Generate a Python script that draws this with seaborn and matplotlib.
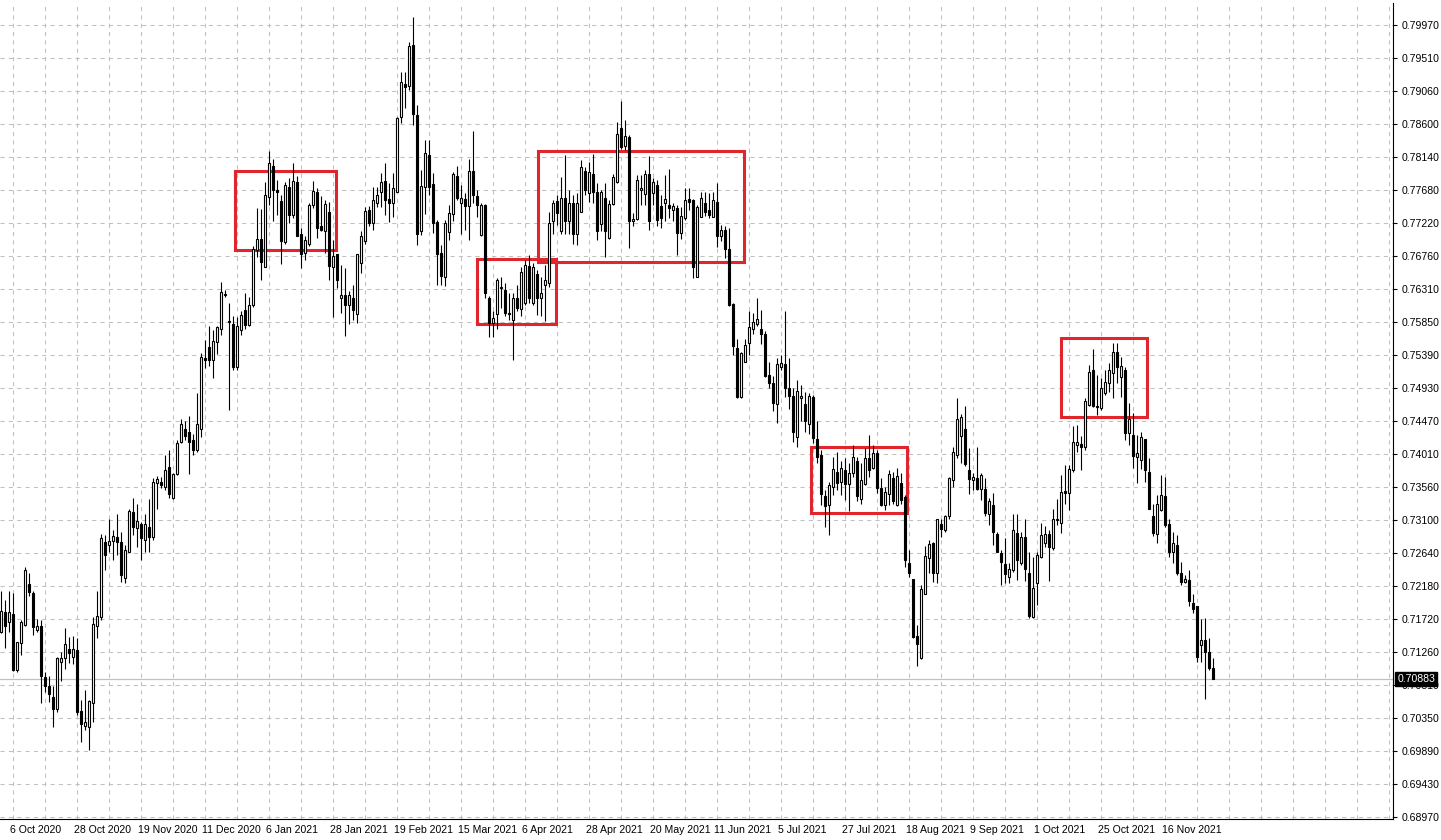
import numpy as np
import pandas as pd
import matplotlib
matplotlib.use("Agg")
import matplotlib.pyplot as plt
import matplotlib.transforms as mtransforms
from matplotlib.patches import Rectangle
import seaborn as sns

# daily AUDUSD candles, 1 Oct 2020 .. 2 Dec 2021
opens = [
    0.7154, 0.7182, 0.7167, 0.7178, 0.7101, 0.7138, 0.7163, 0.7220, 0.7208, 0.7157,
    0.7162, 0.7091, 0.7079, 0.7063, 0.7047, 0.7112, 0.7117, 0.7130, 0.7119, 0.7129,
    0.7044, 0.7023, 0.7021, 0.7055, 0.7162, 0.7175, 0.7278, 0.7275, 0.7280, 0.7286,
    0.7279, 0.7229, 0.7265, 0.7320, 0.7298, 0.7304, 0.7282, 0.7300, 0.7286, 0.7360,
    0.7362, 0.7355, 0.7383, 0.7340, 0.7373, 0.7417, 0.7436, 0.7431, 0.7420, 0.7406,
    0.7436, 0.7534, 0.7549, 0.7532, 0.7556, 0.7575, 0.7623, 0.7586, 0.7581, 0.7522,
    0.7573, 0.7601, 0.7580, 0.7608, 0.7684, 0.7699, 0.7661, 0.7758, 0.7801, 0.7767,
    0.7752, 0.7695, 0.7772, 0.7733, 0.7778, 0.7707, 0.7680, 0.7693, 0.7747, 0.7764,
    0.7717, 0.7711, 0.7737, 0.7661, 0.7678, 0.7618, 0.7621, 0.7608, 0.7618, 0.7595,
    0.7666, 0.7696, 0.7740, 0.7721, 0.7750, 0.7765, 0.7780, 0.7755, 0.7749, 0.7765,
    0.7869, 0.7915, 0.7912, 0.7969, 0.7872, 0.7710, 0.7771, 0.7816, 0.7776, 0.7723,
    0.7680, 0.7647, 0.7709, 0.7734, 0.7787, 0.7750, 0.7755, 0.7745, 0.7794, 0.7759,
    0.7705, 0.7747, 0.7617, 0.7583, 0.7595, 0.7631, 0.7629, 0.7597, 0.7587, 0.7617,
    0.7602, 0.7610, 0.7662, 0.7611, 0.7651, 0.7617, 0.7636, 0.7638, 0.7724, 0.7752,
    0.7710, 0.7757, 0.7724, 0.7749, 0.7706, 0.7737, 0.7794, 0.7763, 0.7790, 0.7764,
    0.7720, 0.7757, 0.7701, 0.7748, 0.7778, 0.7853, 0.7829, 0.7841, 0.7724, 0.7727,
    0.7767, 0.7762, 0.7789, 0.7763, 0.7774, 0.7745, 0.7750, 0.7747, 0.7740, 0.7742,
    0.7708, 0.7728, 0.7755, 0.7754, 0.7647, 0.7730, 0.7750, 0.7740, 0.7730, 0.7751,
    0.7704, 0.7712, 0.7686, 0.7609, 0.7548, 0.7480, 0.7529, 0.7555, 0.7575, 0.7581,
    0.7574, 0.7567, 0.7511, 0.7499, 0.7470, 0.7522, 0.7526, 0.7493, 0.7481, 0.7424,
    0.7478, 0.7470, 0.7443, 0.7480, 0.7422, 0.7400, 0.7342, 0.7330, 0.7355, 0.7376,
    0.7362, 0.7379, 0.7359, 0.7374, 0.7391, 0.7338, 0.7359, 0.7395, 0.7381, 0.7402,
    0.7353, 0.7330, 0.7345, 0.7368, 0.7330, 0.7361, 0.7341, 0.7250, 0.7227, 0.7148,
    0.7118, 0.7207, 0.7257, 0.7277, 0.7235, 0.7304, 0.7295, 0.7315, 0.7364, 0.7399,
    0.7426, 0.7435, 0.7379, 0.7364, 0.7368, 0.7352, 0.7352, 0.7318, 0.7330, 0.7290,
    0.7263, 0.7248, 0.7230, 0.7240, 0.7291, 0.7249, 0.7285, 0.7235, 0.7175, 0.7221,
    0.7258, 0.7277, 0.7290, 0.7270, 0.7309, 0.7305, 0.7350, 0.7346, 0.7378, 0.7413,
    0.7414, 0.7411, 0.7469, 0.7517, 0.7467, 0.7464, 0.7485, 0.7499, 0.7513, 0.7542,
    0.7508, 0.7517, 0.7430, 0.7427, 0.7397, 0.7392, 0.7421, 0.7376, 0.7314, 0.7290,
    0.7323, 0.7343, 0.7303, 0.7264, 0.7274, 0.7235, 0.7223, 0.7226, 0.7194, 0.7189,
    0.7136, 0.7142, 0.7126, 0.7104,
]
highs = [
    0.7210, 0.7198, 0.7210, 0.7208, 0.7140, 0.7170, 0.7244, 0.7235, 0.7210, 0.7171,
    0.7170, 0.7098, 0.7092, 0.7078, 0.7119, 0.7126, 0.7159, 0.7147, 0.7148, 0.7145,
    0.7059, 0.7073, 0.7059, 0.7175, 0.7210, 0.7290, 0.7288, 0.7310, 0.7295, 0.7318,
    0.7293, 0.7274, 0.7325, 0.7339, 0.7331, 0.7306, 0.7318, 0.7338, 0.7368, 0.7370,
    0.7369, 0.7399, 0.7407, 0.7375, 0.7420, 0.7450, 0.7446, 0.7453, 0.7429, 0.7485,
    0.7541, 0.7559, 0.7578, 0.7573, 0.7579, 0.7639, 0.7628, 0.7610, 0.7592, 0.7591,
    0.7599, 0.7624, 0.7619, 0.7689, 0.7742, 0.7741, 0.7779, 0.7821, 0.7811, 0.7781,
    0.7761, 0.7779, 0.7784, 0.7805, 0.7787, 0.7714, 0.7703, 0.7749, 0.7780, 0.7770,
    0.7759, 0.7754, 0.7751, 0.7698, 0.7679, 0.7663, 0.7659, 0.7627, 0.7635, 0.7679,
    0.7710, 0.7744, 0.7745, 0.7772, 0.7772, 0.7791, 0.7805, 0.7777, 0.7791, 0.7869,
    0.7932, 0.7932, 0.7973, 0.8008, 0.7885, 0.7795, 0.7837, 0.7837, 0.7791, 0.7726,
    0.7691, 0.7726, 0.7747, 0.7793, 0.7801, 0.7774, 0.7763, 0.7810, 0.7849, 0.7768,
    0.7749, 0.7748, 0.7620, 0.7600, 0.7645, 0.7647, 0.7638, 0.7624, 0.7624, 0.7636,
    0.7661, 0.7670, 0.7677, 0.7666, 0.7656, 0.7647, 0.7663, 0.7737, 0.7754, 0.7761,
    0.7786, 0.7816, 0.7767, 0.7761, 0.7763, 0.7809, 0.7800, 0.7807, 0.7818, 0.7777,
    0.7767, 0.7777, 0.7754, 0.7789, 0.7862, 0.7891, 0.7865, 0.7844, 0.7735, 0.7788,
    0.7788, 0.7795, 0.7814, 0.7784, 0.7781, 0.7760, 0.7788, 0.7796, 0.7749, 0.7747,
    0.7744, 0.7770, 0.7770, 0.7755, 0.7747, 0.7765, 0.7765, 0.7763, 0.7764, 0.7777,
    0.7719, 0.7717, 0.7714, 0.7610, 0.7561, 0.7543, 0.7561, 0.7599, 0.7596, 0.7617,
    0.7601, 0.7571, 0.7528, 0.7509, 0.7534, 0.7538, 0.7599, 0.7534, 0.7492, 0.7504,
    0.7497, 0.7487, 0.7485, 0.7483, 0.7446, 0.7406, 0.7351, 0.7362, 0.7397, 0.7404,
    0.7391, 0.7395, 0.7388, 0.7413, 0.7397, 0.7388, 0.7409, 0.7427, 0.7413, 0.7406,
    0.7367, 0.7355, 0.7379, 0.7376, 0.7381, 0.7374, 0.7344, 0.7267, 0.7227, 0.7163,
    0.7219, 0.7273, 0.7281, 0.7279, 0.7311, 0.7310, 0.7316, 0.7369, 0.7411, 0.7478,
    0.7456, 0.7467, 0.7409, 0.7374, 0.7411, 0.7375, 0.7368, 0.7339, 0.7347, 0.7293,
    0.7268, 0.7284, 0.7249, 0.7317, 0.7318, 0.7293, 0.7311, 0.7264, 0.7258, 0.7264,
    0.7305, 0.7301, 0.7295, 0.7325, 0.7338, 0.7372, 0.7386, 0.7386, 0.7440, 0.7441,
    0.7426, 0.7478, 0.7524, 0.7546, 0.7511, 0.7507, 0.7517, 0.7527, 0.7555, 0.7555,
    0.7536, 0.7522, 0.7471, 0.7458, 0.7427, 0.7432, 0.7422, 0.7395, 0.7332, 0.7344,
    0.7372, 0.7369, 0.7311, 0.7293, 0.7288, 0.7251, 0.7233, 0.7239, 0.7207, 0.7190,
    0.7171, 0.7173, 0.7145, 0.7117,
]
lows = [
    0.7152, 0.7131, 0.7154, 0.7100, 0.7098, 0.7122, 0.7162, 0.7204, 0.7150, 0.7154,
    0.7055, 0.7070, 0.7056, 0.7021, 0.7043, 0.7085, 0.7102, 0.7110, 0.7109, 0.7038,
    0.7001, 0.7017, 0.6990, 0.7028, 0.7145, 0.7170, 0.7239, 0.7265, 0.7254, 0.7260,
    0.7223, 0.7221, 0.7264, 0.7288, 0.7272, 0.7254, 0.7265, 0.7265, 0.7281, 0.7325,
    0.7353, 0.7351, 0.7339, 0.7338, 0.7372, 0.7416, 0.7420, 0.7373, 0.7399, 0.7404,
    0.7425, 0.7520, 0.7523, 0.7507, 0.7539, 0.7566, 0.7619, 0.7462, 0.7517, 0.7518,
    0.7566, 0.7575, 0.7578, 0.7605, 0.7675, 0.7642, 0.7661, 0.7747, 0.7724, 0.7733,
    0.7665, 0.7693, 0.7721, 0.7728, 0.7703, 0.7659, 0.7670, 0.7689, 0.7742, 0.7701,
    0.7710, 0.7680, 0.7643, 0.7591, 0.7631, 0.7596, 0.7564, 0.7582, 0.7587, 0.7583,
    0.7652, 0.7693, 0.7717, 0.7712, 0.7744, 0.7744, 0.7733, 0.7723, 0.7730, 0.7765,
    0.7860, 0.7881, 0.7906, 0.7858, 0.7691, 0.7705, 0.7734, 0.7760, 0.7708, 0.7635,
    0.7636, 0.7634, 0.7698, 0.7724, 0.7754, 0.7706, 0.7712, 0.7698, 0.7749, 0.7730,
    0.7703, 0.7617, 0.7563, 0.7563, 0.7574, 0.7603, 0.7592, 0.7587, 0.7531, 0.7599,
    0.7592, 0.7608, 0.7610, 0.7608, 0.7594, 0.7592, 0.7585, 0.7633, 0.7706, 0.7719,
    0.7706, 0.7707, 0.7707, 0.7693, 0.7691, 0.7737, 0.7761, 0.7751, 0.7749, 0.7698,
    0.7710, 0.7675, 0.7700, 0.7747, 0.7777, 0.7825, 0.7823, 0.7687, 0.7717, 0.7726,
    0.7747, 0.7747, 0.7712, 0.7747, 0.7717, 0.7715, 0.7724, 0.7728, 0.7724, 0.7677,
    0.7700, 0.7726, 0.7740, 0.7645, 0.7647, 0.7730, 0.7731, 0.7728, 0.7730, 0.7688,
    0.7696, 0.7673, 0.7606, 0.7538, 0.7478, 0.7478, 0.7529, 0.7538, 0.7568, 0.7578,
    0.7554, 0.7508, 0.7492, 0.7460, 0.7444, 0.7517, 0.7480, 0.7463, 0.7418, 0.7410,
    0.7446, 0.7432, 0.7429, 0.7416, 0.7388, 0.7330, 0.7300, 0.7288, 0.7344, 0.7351,
    0.7344, 0.7337, 0.7321, 0.7369, 0.7335, 0.7332, 0.7358, 0.7369, 0.7380, 0.7346,
    0.7328, 0.7323, 0.7330, 0.7332, 0.7329, 0.7332, 0.7244, 0.7230, 0.7145, 0.7106,
    0.7116, 0.7206, 0.7235, 0.7223, 0.7222, 0.7286, 0.7293, 0.7311, 0.7355, 0.7395,
    0.7388, 0.7384, 0.7345, 0.7351, 0.7351, 0.7337, 0.7314, 0.7302, 0.7274, 0.7264,
    0.7219, 0.7221, 0.7221, 0.7237, 0.7226, 0.7247, 0.7225, 0.7173, 0.7173, 0.7191,
    0.7256, 0.7272, 0.7225, 0.7268, 0.7302, 0.7291, 0.7332, 0.7323, 0.7376, 0.7403,
    0.7378, 0.7406, 0.7467, 0.7466, 0.7455, 0.7462, 0.7483, 0.7487, 0.7478, 0.7499,
    0.7480, 0.7420, 0.7413, 0.7382, 0.7360, 0.7380, 0.7362, 0.7324, 0.7287, 0.7277,
    0.7321, 0.7300, 0.7258, 0.7249, 0.7233, 0.7219, 0.7221, 0.7189, 0.7180, 0.7112,
    0.7112, 0.7061, 0.7101, 0.7088,
]
closes = [
    0.7183, 0.7162, 0.7181, 0.7101, 0.7140, 0.7167, 0.7239, 0.7209, 0.7160, 0.7162,
    0.7093, 0.7078, 0.7068, 0.7047, 0.7118, 0.7117, 0.7137, 0.7124, 0.7130, 0.7043,
    0.7026, 0.7028, 0.7058, 0.7164, 0.7176, 0.7284, 0.7260, 0.7280, 0.7287, 0.7279,
    0.7233, 0.7268, 0.7322, 0.7300, 0.7308, 0.7284, 0.7304, 0.7286, 0.7362, 0.7366,
    0.7358, 0.7378, 0.7345, 0.7373, 0.7416, 0.7442, 0.7426, 0.7418, 0.7407, 0.7442,
    0.7535, 0.7531, 0.7531, 0.7558, 0.7577, 0.7626, 0.7622, 0.7584, 0.7522, 0.7579,
    0.7594, 0.7580, 0.7608, 0.7686, 0.7700, 0.7667, 0.7761, 0.7805, 0.7767, 0.7764,
    0.7696, 0.7774, 0.7733, 0.7780, 0.7703, 0.7679, 0.7698, 0.7747, 0.7766, 0.7714,
    0.7712, 0.7748, 0.7662, 0.7676, 0.7642, 0.7621, 0.7608, 0.7622, 0.7601, 0.7678,
    0.7704, 0.7738, 0.7721, 0.7754, 0.7760, 0.7779, 0.7753, 0.7750, 0.7770, 0.7868,
    0.7917, 0.7911, 0.7967, 0.7873, 0.7707, 0.7773, 0.7819, 0.7772, 0.7721, 0.7679,
    0.7648, 0.7721, 0.7735, 0.7789, 0.7757, 0.7756, 0.7745, 0.7794, 0.7761, 0.7747,
    0.7747, 0.7624, 0.7583, 0.7590, 0.7643, 0.7633, 0.7596, 0.7595, 0.7617, 0.7604,
    0.7654, 0.7663, 0.7617, 0.7661, 0.7618, 0.7624, 0.7643, 0.7722, 0.7749, 0.7735,
    0.7757, 0.7724, 0.7750, 0.7707, 0.7749, 0.7799, 0.7767, 0.7793, 0.7764, 0.7711,
    0.7764, 0.7710, 0.7748, 0.7786, 0.7845, 0.7827, 0.7842, 0.7724, 0.7727, 0.7782,
    0.7770, 0.7789, 0.7724, 0.7778, 0.7726, 0.7728, 0.7755, 0.7742, 0.7745, 0.7708,
    0.7731, 0.7753, 0.7751, 0.7660, 0.7744, 0.7756, 0.7737, 0.7733, 0.7754, 0.7703,
    0.7712, 0.7686, 0.7608, 0.7551, 0.7480, 0.7541, 0.7552, 0.7577, 0.7584, 0.7588,
    0.7567, 0.7509, 0.7500, 0.7471, 0.7526, 0.7527, 0.7493, 0.7481, 0.7432, 0.7488,
    0.7481, 0.7446, 0.7482, 0.7423, 0.7397, 0.7345, 0.7328, 0.7358, 0.7380, 0.7361,
    0.7381, 0.7359, 0.7375, 0.7396, 0.7343, 0.7365, 0.7395, 0.7379, 0.7402, 0.7354,
    0.7330, 0.7348, 0.7373, 0.7335, 0.7370, 0.7337, 0.7254, 0.7236, 0.7147, 0.7137,
    0.7213, 0.7259, 0.7276, 0.7235, 0.7310, 0.7296, 0.7315, 0.7367, 0.7403, 0.7449,
    0.7452, 0.7387, 0.7366, 0.7369, 0.7352, 0.7372, 0.7319, 0.7335, 0.7293, 0.7265,
    0.7251, 0.7234, 0.7241, 0.7295, 0.7254, 0.7286, 0.7241, 0.7176, 0.7214, 0.7261,
    0.7288, 0.7290, 0.7271, 0.7311, 0.7310, 0.7348, 0.7347, 0.7380, 0.7417, 0.7418,
    0.7411, 0.7474, 0.7514, 0.7467, 0.7466, 0.7492, 0.7501, 0.7518, 0.7543, 0.7522,
    0.7523, 0.7430, 0.7449, 0.7398, 0.7402, 0.7424, 0.7378, 0.7325, 0.7291, 0.7331,
    0.7344, 0.7302, 0.7264, 0.7277, 0.7235, 0.7223, 0.7227, 0.7196, 0.7186, 0.7119,
    0.7143, 0.7126, 0.7104, 0.7088,
]

last_price = 0.70883
price_labels = ["0.68970", "0.69430", "0.69890", "0.70350", "0.70810", "0.71260",
                "0.71720", "0.72180", "0.72640", "0.73100", "0.73560", "0.74010",
                "0.74470", "0.74930", "0.75390", "0.75850", "0.76310", "0.76760",
                "0.77220", "0.77680", "0.78140", "0.78600", "0.79060", "0.79510",
                "0.79970"]
# marked ranges: (first bar, last bar, low, high)
box_starts = [58.6, 119.1, 134.3, 202.6, 265.1]
box_ends = [83.8, 138.8, 185.8, 226.6, 286.6]
box_lows = [0.7684, 0.7581, 0.7667, 0.7319, 0.7452]
box_highs = [0.7794, 0.7672, 0.7822, 0.7411, 0.7562]

df = pd.DataFrame({"open": opens, "high": highs, "low": lows, "close": closes})
days = pd.bdate_range("2020-10-01", "2021-12-31")
days = days[~days.isin(pd.to_datetime(["2020-12-25", "2021-01-01"]))]
df["date"] = days[:len(df)]
df["x"] = np.arange(len(df))
up = df["close"] >= df["open"]

sns.set_style("white")
plt.rcParams["font.family"] = ["Liberation Sans", "DejaVu Sans"]

fig = plt.figure(figsize=(14.41, 8.40), dpi=100)
ax = fig.add_axes([0, 21 / 840, 1393 / 1441, 816 / 840])

# candles: wicks first, bodies on top (white = up day, black = down day)
ax.vlines(df["x"], df["low"], df["high"], color="black", lw=0.8, zorder=3)
ax.bar(df["x"][up], (df["close"] - df["open"])[up], bottom=df["open"][up], width=0.5,
       color="white", edgecolor="black", lw=0.8, zorder=4)
ax.bar(df["x"][~up], (df["close"] - df["open"])[~up], bottom=df["open"][~up], width=0.5,
       color="black", edgecolor="black", lw=0.8, zorder=4)

for x0, x1, lo, hi in zip(box_starts, box_ends, box_lows, box_highs):
    ax.add_patch(Rectangle((x0, lo), x1 - x0, hi - lo, fill=False,
                           edgecolor="#e0262c", lw=2.2, zorder=2))

ax.axhline(last_price, color="#c0c0c0", lw=0.9, zorder=1)

ax.set_xlim(-0.175, 348.1)
ax.set_ylim(0.689381, 0.802714)

yticks = np.linspace(0.6897, 0.7997, len(price_labels))
ax.yaxis.tick_right()
ax.set_yticks(yticks)
ax.set_yticklabels(price_labels)

major = np.arange(3, 348, 16)
labels = []
for i in major:
    if i < len(df):
        d = df["date"].iloc[i]
        labels.append(f"{d.day} {d:%b %Y}")
    else:
        labels.append("")
ax.set_xticks(major)
ax.set_xticklabels(labels, ha="left")
ax.set_xticks(np.arange(11, 348, 16), minor=True)

ax.grid(True, which="both", color="#c0c0c0", lw=0.75, ls=(0, (4, 4)), zorder=0)
ax.tick_params(axis="y", which="major", right=True, length=3, width=0.8, pad=3,
               labelsize=7.6, colors="black")
ax.tick_params(axis="x", which="major", bottom=True, length=0, pad=4, labelsize=7.6,
               colors="black")
ax.tick_params(axis="x", which="minor", length=0)
for side in ["left", "top"]:
    ax.spines[side].set_visible(False)
for side in ["right", "bottom"]:
    ax.spines[side].set_color("black")
    ax.spines[side].set_linewidth(0.8)

# date labels start a few pixels left of their grid line
shift = mtransforms.ScaledTranslation(-3 / 100, 0, fig.dpi_scale_trans)
for lbl in ax.get_xticklabels():
    lbl.set_transform(lbl.get_transform() + shift)

ax.annotate(f"{last_price:.5f}", xy=(1.0, last_price), xycoords=("axes fraction", "data"),
            xytext=(3, 0), textcoords="offset points", va="center", ha="left",
            fontsize=7.6, color="white",
            bbox=dict(boxstyle="square,pad=0.2", fc="black", ec="black"),
            zorder=10, annotation_clip=False)

fig.savefig("out.png", dpi=100, facecolor="white")
